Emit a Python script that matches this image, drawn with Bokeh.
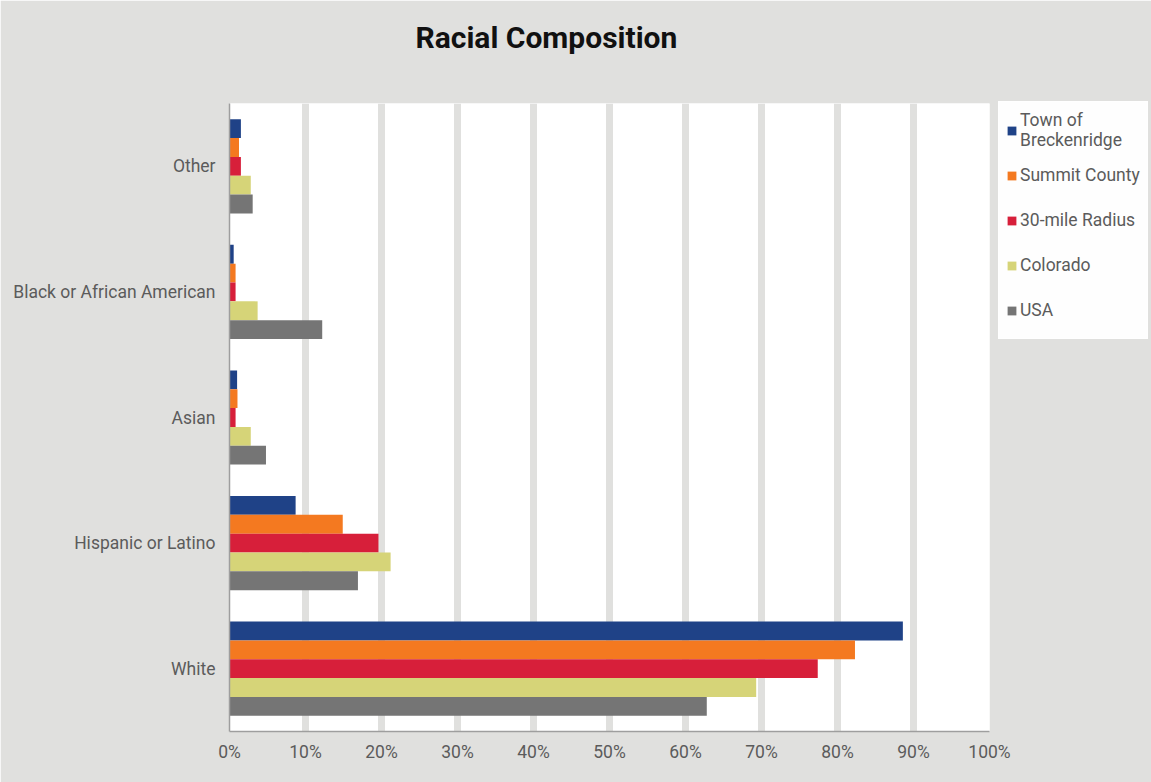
from bokeh.plotting import figure
from bokeh.models import (FactorRange, Range1d, FixedTicker, PrintfTickFormatter,
                          Legend, LegendItem, ColumnDataSource, Title)
from bokeh.transform import dodge
from bokeh.embed import file_html
from bokeh.resources import INLINE

categories = ["White", "Hispanic or Latino", "Asian", "Black or African American", "Other"]
series_names = ["Town of\nBreckenridge", "Summit County", "30-mile Radius", "Colorado", "USA"]
town = [88.6, 8.7, 1.0, 0.55, 1.5]
summit = [82.3, 14.9, 1.05, 0.8, 1.25]
radius = [77.4, 19.6, 0.8, 0.8, 1.5]
colorado = [69.3, 21.2, 2.8, 3.7, 2.8]
usa = [62.8, 16.9, 4.8, 12.2, 3.05]
x_ticks = [0, 10, 20, 30, 40, 50, 60, 70, 80, 90, 100]
title_text = "Racial Composition"

colors = ["#1f4287", "#f47920", "#d71f3a", "#d6d478", "#757575"]
offsets = [0.3, 0.15, 0.0, -0.15, -0.3]
BG = "#e0e0de"
TXT = "#5b5b5b"
FONT = "Roboto"

src = ColumnDataSource(dict(cat=categories, town=town, summit=summit, radius=radius,
                            colorado=colorado, usa=usa))
keys = ["town", "summit", "radius", "colorado", "usa"]

p = figure(width=1151, height=782, frame_width=760, frame_height=628,
           y_range=FactorRange(factors=categories, range_padding=0),
           x_range=Range1d(0, 100),
           output_backend="svg", toolbar_location=None,
           min_border_left=229, min_border_top=103, min_border_bottom=51, min_border_right=162)

p.background_fill_color = "white"
p.border_fill_color = BG
p.outline_line_color = None

renderers = []
for k, c, o in zip(keys, colors, offsets):
    r = p.hbar(y=dodge("cat", o, range=p.y_range), right=k, left=0, height=0.15,
               source=src, fill_color=c, line_color=None)
    renderers.append(r)

# grid
p.ygrid.grid_line_color = None
p.xgrid.ticker = FixedTicker(ticks=x_ticks[1:-1])
p.xgrid.grid_line_color = BG
p.xgrid.grid_line_width = 7

# axes
p.xaxis.ticker = FixedTicker(ticks=x_ticks)
p.xaxis.formatter = PrintfTickFormatter(format="%d%%")
for ax in (p.xaxis[0], p.yaxis[0]):
    ax.axis_line_color = "#9e9e9e"
    ax.axis_line_width = 1.5
    ax.major_tick_line_color = None
    ax.minor_tick_line_color = None
    ax.major_label_text_font = FONT
    ax.major_label_text_font_size = "17.5px"
    ax.major_label_text_color = TXT
p.xaxis.major_label_standoff = 4
p.yaxis.major_label_standoff = 8

# title: a spacer title next to the frame, then the real title above it
p.title.text = ""
spacer = Title(text=" ", text_font_size="42px", standoff=0)
p.add_layout(spacer, "above")
main_title = Title(text=title_text, text_font=FONT, text_font_style="bold",
                   text_font_size="30px", text_color="#111111", align="left",
                   offset=186, standoff=0)
p.add_layout(main_title, "above")

legend = Legend(items=[LegendItem(label=n, renderers=[r]) for n, r in zip(series_names, renderers)],
                location=(9, 392), margin=0, padding=7, spacing=3,
                label_height=42, glyph_height=11, glyph_width=11, label_standoff=3,
                label_text_font=FONT, label_text_font_size="17.5px", label_text_color=TXT,
                background_fill_color="white", border_line_color="white", border_line_width=1)
p.add_layout(legend, "right")

open("out.html", "w").write(file_html(p, INLINE))
